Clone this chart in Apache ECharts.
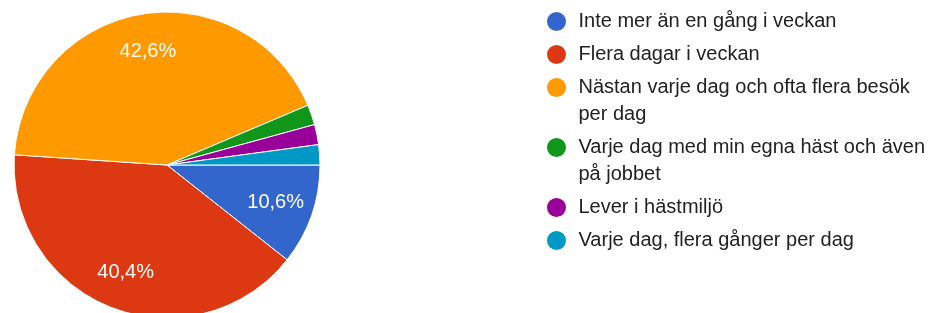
<!DOCTYPE html>
<html lang="sv">
<head>
  <meta charset="UTF-8">
  <title>Pie</title>
  <script src="https://cdn.jsdelivr.net/npm/echarts@6/dist/echarts.min.js"></script>
  <style>
    html, body { margin: 0; padding: 0; background: #fff; }
    #main { width: 935px; height: 313px; }
  </style>
</head>
<body>
  <div id="main"></div>
  <script type="text/javascript">
    // answers and how many picked each one (47 in total)
    var categories = [
      'Inte mer än en gång i veckan',
      'Flera dagar i veckan',
      'Nästan varje dag och ofta flera besök per dag',
      'Varje dag med min egna häst och även på jobbet',
      'Lever i hästmiljö',
      'Varje dag, flera gånger per dag'
    ];
    var counts = [5, 19, 20, 1, 1, 1];
    var colors = ['#3366cc', '#dc3912', '#ff9900', '#109618', '#990099', '#0099c6'];

    var total = counts.reduce(function (a, b) { return a + b; }, 0);
    var font = "'Liberation Sans', Arial, sans-serif";

    // simple greedy word wrap for the legend texts
    function wrapWords(text, maxChars) {
      var lines = [], cur = '';
      text.split(' ').forEach(function (w) {
        if (cur && (cur + ' ' + w).length > maxChars) {
          lines.push(cur);
          cur = w;
        } else {
          cur = cur ? cur + ' ' + w : w;
        }
      });
      if (cur) lines.push(cur);
      return lines;
    }

    var rowTop = 21.5, rowStep = 33, lineH = 27;

    var legends = [];
    var y = rowTop;
    categories.forEach(function (name, i) {
      var lines = wrapWords(name, 38);
      var extra = lines.length - 1;
      var label = lines.join('\n');
      legends.push({
        orient: 'vertical',
        left: 545,
        // empty lines on top keep the dot next to the first line
        top: y - lineH / 2 - extra * lineH,
        padding: 0,
        icon: 'circle',
        itemWidth: 34,
        itemHeight: 21,
        selectedMode: false,
        data: [name],
        formatter: function () {
          return new Array(extra + 1).join('\n') + label;
        },
        textStyle: {
          color: '#222',
          fontSize: 20,
          fontFamily: font,
          lineHeight: lineH
        }
      });
      y += rowStep + extra * lineH;
    });

    var chartDom = document.getElementById('main');
    var myChart = echarts.init(chartDom);

    var option = {
      animation: false,
      color: colors,
      legend: legends,
      series: [
        {
          name: 'svar',
          type: 'pie',
          center: [167, 165],
          radius: 153,
          startAngle: 0,
          clockwise: true,
          avoidLabelOverlap: false,
          label: { show: false },
          labelLine: { show: false },
          itemStyle: { borderColor: '#fff', borderWidth: 1 },
          emphasis: { disabled: true },
          data: categories.map(function (name, i) {
            return { name: name, value: counts[i], itemStyle: { color: colors[i] } };
          })
        },
        {
          // label ring only, so the percentages sit out towards the rim
          name: 'etiketter',
          type: 'pie',
          center: [167, 165],
          radius: [71, 153],
          startAngle: 0,
          clockwise: true,
          silent: true,
          avoidLabelOverlap: false,
          itemStyle: { color: 'rgba(0,0,0,0)', borderWidth: 0 },
          emphasis: { disabled: true },
          labelLine: { show: false },
          label: {
            show: true,
            position: 'inside',
            color: '#fff',
            fontSize: 20,
            fontFamily: font,
            formatter: function (p) {
              var pct = p.value / total * 100;
              if (pct < 5) return '';
              return pct.toFixed(1).replace('.', ',') + '%';
            }
          },
          data: categories.map(function (name, i) {
            return { name: name, value: counts[i] };
          })
        }
      ]
    };

    option && myChart.setOption(option);
  </script>
</body>
</html>
